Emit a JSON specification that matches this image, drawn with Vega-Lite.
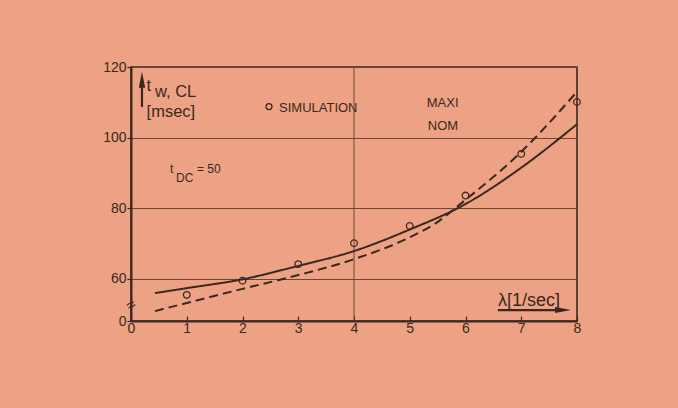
{
  "$schema": "https://vega.github.io/schema/vega-lite/v6.json",
  "width": 446,
  "height": 254,
  "autosize": {"type": "none"},
  "padding": {"left": 131, "top": 67, "right": 101, "bottom": 87},
  "background": "#eea285",
  "config": {
    "font": "Liberation Sans",
    "view": {"stroke": "#3a2820", "strokeWidth": 1.6},
    "axis": {"labelFont": "Liberation Sans", "labelColor": "#3a2820", "domainColor": "#3a2820", "tickColor": "#3a2820"}
  },
  "datasets": {
    "curves": [
      {"series": "NOM", "lam": 0.43, "t": 56.0},
      {"series": "NOM", "lam": 1, "t": 57.4},
      {"series": "NOM", "lam": 2, "t": 59.9},
      {"series": "NOM", "lam": 3, "t": 63.7},
      {"series": "NOM", "lam": 4, "t": 67.9},
      {"series": "NOM", "lam": 5, "t": 74.0},
      {"series": "NOM", "lam": 6, "t": 81.2},
      {"series": "NOM", "lam": 7, "t": 91.5},
      {"series": "NOM", "lam": 8, "t": 103.8},
      {"series": "MAXI", "lam": 0.43, "t": 50.9},
      {"series": "MAXI", "lam": 1, "t": 53.2},
      {"series": "MAXI", "lam": 2, "t": 57.2},
      {"series": "MAXI", "lam": 3, "t": 61.1},
      {"series": "MAXI", "lam": 4, "t": 65.6},
      {"series": "MAXI", "lam": 5, "t": 71.8},
      {"series": "MAXI", "lam": 5.45, "t": 75.6},
      {"series": "MAXI", "lam": 6, "t": 82.4},
      {"series": "MAXI", "lam": 7, "t": 96.0},
      {"series": "MAXI", "lam": 8, "t": 113.0}
    ],
    "sim": [
      {"lam": 1, "t": 55.5},
      {"lam": 2, "t": 59.5},
      {"lam": 3, "t": 64.2},
      {"lam": 4, "t": 70.1},
      {"lam": 5, "t": 75.0},
      {"lam": 6, "t": 83.6},
      {"lam": 7, "t": 95.4},
      {"lam": 8, "t": 110.1}
    ],
    "annot": [
      {"grp": "legend", "lam": 2.655, "t": 107.35, "text": "SIMULATION"},
      {"grp": "legend", "lam": 5.305, "t": 108.6, "text": "MAXI"},
      {"grp": "legend", "lam": 5.325, "t": 102.17, "text": "NOM"},
      {"grp": "title", "lam": 0.28, "t": 113.2, "text": "t"},
      {"grp": "title", "lam": 0.43, "t": 111.4, "text": "w, CL"},
      {"grp": "title", "lam": 0.28, "t": 105.8, "text": "[msec]"},
      {"grp": "small", "lam": 0.70, "t": 90.0, "text": "t"},
      {"grp": "small", "lam": 0.807, "t": 87.45, "text": "DC"},
      {"grp": "small", "lam": 1.184, "t": 90.0, "text": "= 50"},
      {"grp": "xtitle", "lam": 6.583, "t": 52.35, "text": "λ[1/sec]"},
      {"grp": "break", "lam": 0, "t": 52.6, "text": "≈"}
    ],
    "arrows": [
      {"dir": "x", "lam": 6.58, "t": 51.2, "lam2": 7.75, "t2": 51.2},
      {"dir": "y", "lam": 0.197, "t": 108.7, "lam2": 0.197, "t2": 116.4}
    ],
    "legendmark": [{"lam": 2.475, "t": 108.8}],
    "vline": [{"lam": 4}]
  },
  "layer": [
    {
      "data": {"name": "vline"},
      "mark": {"type": "rule", "color": "#6e4636", "strokeWidth": 1},
      "encoding": {
        "x": {"field": "lam", "type": "quantitative", "scale": {"domain": [0, 8], "nice": false, "zero": false},
          "axis": {"values": [0, 1, 2, 3, 4, 5, 6, 7, 8], "format": "d", "grid": false, "title": null, "domainWidth": 2, "tickSize": -5, "tickWidth": 1.2, "labelFontSize": 14, "labelPadding": 5, "labelFlush": false}}
      }
    },
    {
      "data": {"name": "curves"},
      "mark": {"type": "line", "color": "#3a2820", "strokeWidth": 2, "interpolate": "monotone"},
      "encoding": {
        "x": {"field": "lam", "type": "quantitative", "scale": {"domain": [0, 8], "nice": false, "zero": false}},
        "y": {"field": "t", "type": "quantitative", "scale": {"domain": [48.1, 120], "nice": false, "zero": false},
          "axis": {"values": [48.1, 60, 80, 100, 120], "labelExpr": "datum.value < 50 ? '0' : datum.label", "grid": true, "gridColor": "#6e4636", "gridWidth": 1, "title": null, "domainWidth": 2, "tickSize": 4, "tickWidth": 1.2, "labelFontSize": 14, "labelPadding": 1}},
        "detail": {"field": "series"},
        "strokeDash": {"field": "series", "type": "nominal", "scale": {"domain": ["NOM", "MAXI"], "range": [[1, 0], [9, 5]]}, "legend": null}
      }
    },
    {
      "data": {"name": "sim"},
      "mark": {"type": "point", "shape": "circle", "size": 44, "filled": false, "stroke": "#3a2820", "strokeWidth": 1.3, "opacity": 1},
      "encoding": {
        "x": {"field": "lam", "type": "quantitative"},
        "y": {"field": "t", "type": "quantitative"}
      }
    },
    {
      "data": {"name": "legendmark"},
      "mark": {"type": "point", "shape": "circle", "size": 36, "filled": false, "stroke": "#3a2820", "strokeWidth": 1.3, "opacity": 1},
      "encoding": {
        "x": {"field": "lam", "type": "quantitative"},
        "y": {"field": "t", "type": "quantitative"}
      }
    },
    {
      "data": {"name": "arrows"},
      "mark": {"type": "rule", "color": "#3a2820", "strokeWidth": 2.2},
      "encoding": {
        "x": {"field": "lam", "type": "quantitative"},
        "x2": {"field": "lam2"},
        "y": {"field": "t", "type": "quantitative"},
        "y2": {"field": "t2"}
      }
    },
    {
      "data": {"name": "arrows"},
      "transform": [{"filter": "datum.dir == 'x'"}],
      "mark": {"type": "point", "shape": "M -1 -0.38 L 1 0 L -1 0.38 Z", "size": 256, "filled": true, "color": "#3a2820", "opacity": 1},
      "encoding": {
        "x": {"field": "lam2", "type": "quantitative"},
        "y": {"field": "t2", "type": "quantitative"}
      }
    },
    {
      "data": {"name": "arrows"},
      "transform": [{"filter": "datum.dir == 'y'"}],
      "mark": {"type": "point", "shape": "M -0.4 1 L 0 -1 L 0.4 1 Z", "size": 256, "filled": true, "color": "#3a2820", "opacity": 1},
      "encoding": {
        "x": {"field": "lam2", "type": "quantitative"},
        "y": {"field": "t2", "type": "quantitative"}
      }
    },
    {
      "data": {"name": "annot"},
      "transform": [{"filter": "datum.grp == 'legend'"}],
      "mark": {"type": "text", "align": "left", "baseline": "alphabetic", "fontSize": 13, "color": "#3a2820"},
      "encoding": {
        "x": {"field": "lam", "type": "quantitative"},
        "y": {"field": "t", "type": "quantitative"},
        "text": {"field": "text"}
      }
    },
    {
      "data": {"name": "annot"},
      "transform": [{"filter": "datum.grp == 'title'"}],
      "mark": {"type": "text", "align": "left", "baseline": "alphabetic", "fontSize": 16.5, "color": "#3a2820"},
      "encoding": {
        "x": {"field": "lam", "type": "quantitative"},
        "y": {"field": "t", "type": "quantitative"},
        "text": {"field": "text"}
      }
    },
    {
      "data": {"name": "annot"},
      "transform": [{"filter": "datum.grp == 'small'"}],
      "mark": {"type": "text", "align": "left", "baseline": "alphabetic", "fontSize": 12, "color": "#3a2820"},
      "encoding": {
        "x": {"field": "lam", "type": "quantitative"},
        "y": {"field": "t", "type": "quantitative"},
        "text": {"field": "text"}
      }
    },
    {
      "data": {"name": "annot"},
      "transform": [{"filter": "datum.grp == 'xtitle'"}],
      "mark": {"type": "text", "align": "left", "baseline": "alphabetic", "fontSize": 18, "color": "#3a2820"},
      "encoding": {
        "x": {"field": "lam", "type": "quantitative"},
        "y": {"field": "t", "type": "quantitative"},
        "text": {"field": "text"}
      }
    },
    {
      "data": {"name": "annot"},
      "transform": [{"filter": "datum.grp == 'break'"}],
      "mark": {"type": "text", "align": "center", "baseline": "middle", "fontSize": 16, "angle": 330, "color": "#3a2820"},
      "encoding": {
        "x": {"field": "lam", "type": "quantitative"},
        "y": {"field": "t", "type": "quantitative"},
        "text": {"field": "text"}
      }
    }
  ]
}
